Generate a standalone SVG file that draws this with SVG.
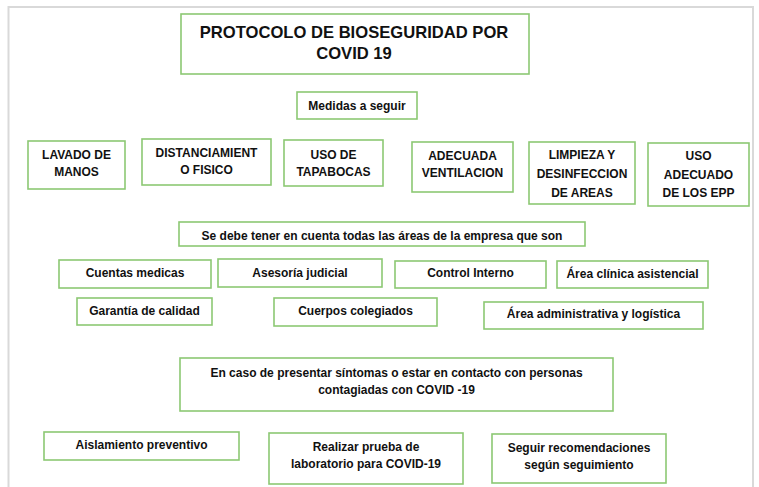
<svg xmlns="http://www.w3.org/2000/svg" width="759" height="487" viewBox="0 0 759 487">
<style>
.box{fill:#fff;stroke:#8cc873;stroke-width:1.6}
.t{font-family:"Liberation Sans",Arial,sans-serif;font-weight:bold;font-size:12px;text-anchor:middle;fill:#111}
.title{font-size:16.6px}
</style>
<rect x="0" y="0" width="759" height="487" fill="#fff"/>
<path d="M8.5,492 V7 H753 V492" fill="none" stroke="#d9d9d9" stroke-width="2"/>
<g id="connectors"></g>
<g id="title"><rect class="box" x="181" y="14" width="348" height="60"/><text class="t title" x="354" y="38">PROTOCOLO DE BIOSEGURIDAD POR</text><text class="t title" x="354" y="58.5">COVID 19</text></g>
<g id="medidas"><rect class="box" x="297" y="92" width="120" height="27"/><text class="t" x="357" y="110">Medidas a seguir</text></g>
<g id="lavado"><rect class="box" x="28" y="141" width="97" height="48"/><text class="t" x="76.5" y="159">LAVADO DE</text><text class="t" x="76.5" y="176">MANOS</text></g>
<g id="distanciamiento"><rect class="box" x="142" y="139" width="129" height="46"/><text class="t" x="206.5" y="157">DISTANCIAMIENT</text><text class="t" x="206.5" y="174">O FISICO</text></g>
<g id="tapabocas"><rect class="box" x="284" y="140" width="99" height="46"/><text class="t" x="333.5" y="159">USO DE</text><text class="t" x="333.5" y="176">TAPABOCAS</text></g>
<g id="ventilacion"><rect class="box" x="412" y="142" width="101" height="50"/><text class="t" x="462.5" y="160">ADECUADA</text><text class="t" x="462.5" y="176.5">VENTILACION</text></g>
<g id="limpieza"><rect class="box" x="529" y="142" width="106" height="62"/><text class="t" x="582" y="159">LIMPIEZA Y</text><text class="t" x="582" y="178">DESINFECCION</text><text class="t" x="582" y="196.5">DE AREAS</text></g>
<g id="epp"><rect class="box" x="648" y="143" width="101" height="63"/><text class="t" x="698.5" y="160">USO</text><text class="t" x="698.5" y="179">ADECUADO</text><text class="t" x="698.5" y="197">DE LOS EPP</text></g>
<g id="areas"><rect class="box" x="179" y="222" width="406" height="24"/><text class="t" x="382" y="240">Se debe tener en cuenta todas las áreas de la empresa que son</text></g>
<g id="cuentas"><rect class="box" x="59" y="260" width="152" height="28"/><text class="t" x="135" y="277">Cuentas medicas</text></g>
<g id="asesoria"><rect class="box" x="218" y="259" width="164" height="28"/><text class="t" x="300" y="276.5">Asesoría judicial</text></g>
<g id="control"><rect class="box" x="395" y="261" width="151" height="27"/><text class="t" x="470.5" y="277">Control Interno</text></g>
<g id="clinica"><rect class="box" x="557" y="261" width="151" height="27"/><text class="t" x="632.5" y="277.5">Área clínica asistencial</text></g>
<g id="garantia"><rect class="box" x="77" y="298" width="135" height="27"/><text class="t" x="144.5" y="315">Garantía de calidad</text></g>
<g id="cuerpos"><rect class="box" x="274" y="298" width="163" height="28"/><text class="t" x="355.5" y="315">Cuerpos colegiados</text></g>
<g id="administrativa"><rect class="box" x="484" y="302" width="219" height="27"/><text class="t" x="593.5" y="318">Área administrativa y logística</text></g>
<g id="sintomas"><rect class="box" x="180" y="358" width="433" height="53"/><text class="t" x="396.5" y="376.5">En caso de presentar síntomas o estar en contacto con personas</text><text class="t" x="396.5" y="394">contagiadas con COVID -19</text></g>
<g id="aislamiento"><rect class="box" x="44" y="432" width="195" height="28"/><text class="t" x="141.5" y="449">Aislamiento preventivo</text></g>
<g id="prueba"><rect class="box" x="269" y="433" width="194" height="51"/><text class="t" x="366" y="451">Realizar prueba de</text><text class="t" x="366" y="468">laboratorio para COVID-19</text></g>
<g id="seguir"><rect class="box" x="492" y="434" width="174" height="49"/><text class="t" x="579" y="452">Seguir recomendaciones</text><text class="t" x="579" y="469">según seguimiento</text></g>
</svg>
